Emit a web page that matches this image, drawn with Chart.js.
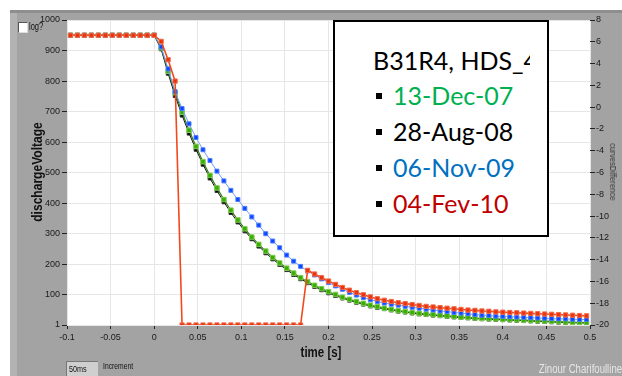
<!DOCTYPE html>
<html>
<head>
<meta charset="utf-8">
<script src="https://cdn.jsdelivr.net/npm/chart.js@4.4.1/dist/chart.umd.min.js"></script>
<style>
  body { margin: 0; background: #fff; }
  #wrap { position: relative; width: 622px; height: 376px; overflow: hidden; background: #fff; }
  #panel { position: absolute; left: 10px; top: 10px; right: 0; bottom: 0; background: #a3a3a3; border-top: 3px solid #8e8e8e; }
  #strip { position: absolute; left: 10px; top: 13px; width: 7px; bottom: 0; background: #b3b3b3; }
  #c { position: absolute; left: 0; top: 0; }
  .lbl { font-family: "Liberation Sans", Arial, sans-serif; position: absolute; white-space: nowrap; }
  #legend { position: absolute; left: 333px; top: 20px; width: 212px; height: 213px; border: 2px solid #000; background: #fff; overflow: hidden; font-family: Lato, "Open Sans", sans-serif; font-size: 25px; }
  #legend div { position: absolute; height: 36px; line-height: 36px; white-space: nowrap; }
  #legend span.sq { display: inline-block; width: 6px; height: 6px; background: #000; position: absolute; left: -17px; top: 16px; }
</style>
</head>
<body>
<div id="wrap">
  <div id="panel"></div>
  <div id="strip"></div>
  <canvas id="c" width="622" height="376"></canvas>

  <div style="position:absolute;left:18px;top:22px;width:8px;height:9px;background:#fff;border-top:1px solid #555;border-left:1px solid #555;border-right:1px solid #ddd;border-bottom:1px solid #ddd;"></div>
  <div class="lbl" style="left:29px;top:21px;font-size:10px;color:#111;transform:scaleX(0.75);transform-origin:left center;">log?</div>

  <div class="lbl" style="left:37px;top:172px;font-size:14px;font-weight:bold;color:#111;transform:translate(-50%,-50%) rotate(-90deg) scaleX(0.86);">dischargeVoltage</div>
  <div class="lbl" style="left:613px;top:172px;font-size:9px;color:#333;transform:translate(-50%,-50%) rotate(90deg) scaleX(0.85);">curvesDifference</div>
  <div class="lbl" style="left:321px;top:352px;font-size:14px;font-weight:bold;color:#111;transform:translate(-50%,-50%) scaleX(0.82);">time [s]</div>

  <div style="position:absolute;left:66px;top:361px;width:31px;height:15px;background:#cfcfcf;border-top:1px solid #777;border-left:1px solid #777;"></div>
  <div class="lbl" style="left:69px;top:364px;font-size:9px;color:#111;transform:scaleX(0.8);transform-origin:left center;">50ms</div>
  <div class="lbl" style="left:103px;top:361px;font-size:9px;color:#111;transform:scaleX(0.75);transform-origin:left center;">Increment</div>
  <div class="lbl" style="right:0px;top:362px;font-size:12px;color:#e6e6e6;transform:scaleX(0.8);transform-origin:right center;">Zinour Charifoulline</div>

  <div id="legend">
    <div style="left:38px;top:20px;width:157px;overflow:hidden;color:#000;">B31R4, HDS_4</div>
    <div style="left:58px;top:55px;color:#00b050;"><span class="sq"></span>13-Dec-07</div>
    <div style="left:58px;top:91px;color:#000;"><span class="sq"></span>28-Aug-08</div>
    <div style="left:58px;top:127px;color:#0070c0;"><span class="sq"></span>06-Nov-09</div>
    <div style="left:58px;top:163px;color:#c00000;"><span class="sq"></span>04-Fev-10</div>
  </div>
</div>

<script>
// sample times [s]
const times = [
  -0.096, -0.088, -0.080, -0.072, -0.064, -0.056, -0.048, -0.040, -0.032, -0.024, -0.016, -0.008, 0,
  0.008, 0.016, 0.024, 0.032, 0.040, 0.048, 0.056, 0.064, 0.072, 0.080,
  0.088, 0.096, 0.104, 0.112, 0.120, 0.128, 0.136, 0.144, 0.152, 0.160,
  0.168, 0.176, 0.184, 0.192, 0.200, 0.208, 0.216, 0.224, 0.232, 0.240,
  0.248, 0.256, 0.264, 0.272, 0.280, 0.288, 0.296, 0.304, 0.312, 0.320,
  0.328, 0.336, 0.344, 0.352, 0.360, 0.368, 0.376, 0.384, 0.392, 0.400,
  0.408, 0.416, 0.424, 0.432, 0.440, 0.448, 0.456, 0.464, 0.472, 0.480,
  0.488, 0.496
];

const dec07 = [
  950, 950, 950, 950, 950, 950, 950, 950, 950, 950, 950, 950, 950,
  909, 832, 762, 698, 639, 586, 536, 491, 450, 412,
  377, 345, 316, 289, 265, 243, 222, 204, 187, 171,
  156, 143, 131, 120, 110, 101, 92, 85, 78, 72,
  66, 61, 56, 52, 48, 45, 42, 39, 37, 35,
  33, 31, 29, 27, 26, 24, 23, 22, 21, 20,
  19, 18, 17, 16, 15, 14, 13, 12, 11, 10,
  10, 9
];

const aug08 = [
  950, 950, 950, 950, 950, 950, 950, 950, 950, 950, 950, 950, 950,
  905, 825, 752, 688, 629, 576, 527, 482, 441, 404,
  369, 338, 309, 283, 259, 237, 217, 199, 182, 166,
  152, 139, 127, 116, 106, 97, 89, 82, 75, 69,
  63, 58, 54, 50, 46, 43, 40, 37, 35, 33,
  31, 29, 27, 25, 24, 22, 21, 20, 19, 18,
  17, 16, 15, 14, 13, 12, 11, 10, 9, 8,
  8, 7
];

const nov09 = [
  950, 950, 950, 950, 950, 950, 950, 950, 950, 950, 950, 950, 950,
  912, 840, 765, 710, 660, 615, 575, 540, 505, 473,
  442, 412, 383, 355, 328, 300, 276, 254, 230, 210,
  193, 178, 165, 152, 140, 129, 118, 108, 99, 91,
  84, 78, 73, 69, 66, 62, 59, 56, 53, 50,
  47, 45, 42, 40, 38, 35, 33, 32, 30, 29,
  28, 27, 26, 25, 24, 23, 22, 21, 21, 20,
  19, 19
];

const fev10 = [
  950, 950, 950, 950, 950, 950, 950, 950, 950, 950, 950, 950, 950,
  930, 870, 800, 1, 1, 1, 1, 1, 1, 1,
  1, 1, 1, 1, 1, 1, 1, 1, 1, 1,
  1, 180, 168, 156, 145, 134, 124, 115, 107, 100,
  93, 87, 82, 78, 74, 71, 68, 65, 62, 60,
  58, 56, 54, 52, 50, 49, 47, 46, 44, 43,
  42, 41, 40, 39, 38, 37, 36, 35, 34, 33,
  32, 31
];

const voltTicks = [1, 100, 200, 300, 400, 500, 600, 700, 800, 900, 1000];

const tickFont = { family: '"Liberation Sans", Arial, sans-serif', size: 9 };

function pts(vals) {
  return times.map((t, i) => ({ x: t, y: vals[i] }));
}

// plain numbers, no thousands separator, no "-0.00"
const plain = v => String(Number(Number(v).toFixed(2)));

// white plot area on top of grey panel
const plotBg = {
  id: 'plotBg',
  beforeDraw(chart) {
    const a = chart.chartArea;
    const ctx = chart.ctx;
    ctx.save();
    ctx.fillStyle = '#ffffff';
    ctx.fillRect(a.left, a.top, a.right - a.left, a.bottom - a.top);
    ctx.restore();
  }
};

new Chart(document.getElementById('c'), {
  type: 'line',
  data: {
    datasets: [
      {
        label: '04-Fev-10', data: pts(fev10), yAxisID: 'y',
        borderColor: '#f04a1c', borderWidth: 1.6,
        pointStyle: 'rect', pointRadius: 3, pointBorderWidth: 1,
        pointBackgroundColor: '#e8340f', pointBorderColor: '#f26a4a'
      },
      {
        label: '06-Nov-09', data: pts(nov09), yAxisID: 'y',
        borderColor: '#6f9dff', borderWidth: 1,
        pointStyle: 'rect', pointRadius: 2.8, pointBorderWidth: 1,
        pointBackgroundColor: '#0a48ff', pointBorderColor: '#4c7cff'
      },
      {
        label: '13-Dec-07', data: pts(dec07), yAxisID: 'y',
        borderColor: '#2f7d12', borderWidth: 1.2,
        pointStyle: 'rect', pointRadius: 3.2, pointBorderWidth: 1,
        pointBackgroundColor: '#3aae00', pointBorderColor: '#7ccc55'
      },
      {
        label: '28-Aug-08', data: pts(aug08), yAxisID: 'y',
        borderColor: '#111111', borderWidth: 1,
        pointStyle: 'rect', pointRadius: 2.6, pointBorderWidth: 1,
        pointBackgroundColor: '#000000', pointBorderColor: '#333333'
      }
    ]
  },
  options: {
    responsive: false,
    animation: false,
    events: [],
    layout: { padding: { left: 0, right: 0, top: 20, bottom: 0 } },
    plugins: { legend: { display: false }, tooltip: { enabled: false } },
    scales: {
      x: {
        type: 'linear', min: -0.1, max: 0.5,
        afterFit: s => { s.height = 51; },
        border: { display: false },
        grid: { color: '#e6e6e6', tickColor: '#222', tickLength: 4 },
        ticks: { stepSize: 0.05, color: '#1a1a1a', font: tickFont, padding: 3, maxRotation: 0, callback: plain }
      },
      y: {
        type: 'linear', position: 'left', min: 1, max: 1000,
        afterFit: s => { s.width = 67; },
        afterBuildTicks: s => { s.ticks = voltTicks.map(v => ({ value: v })); },
        border: { display: false },
        grid: { color: '#e6e6e6', tickColor: '#222', tickLength: 5 },
        ticks: { color: '#1a1a1a', font: tickFont, padding: 2, callback: plain }
      },
      y2: {
        type: 'linear', position: 'right', min: -20, max: 8,
        afterFit: s => { s.width = 32; },
        border: { display: false },
        grid: { drawOnChartArea: false, tickColor: '#222', tickLength: 5 },
        ticks: { stepSize: 2, color: '#1a1a1a', font: tickFont, padding: 1, callback: plain }
      }
    }
  },
  plugins: [plotBg]
});
</script>
</body>
</html>
